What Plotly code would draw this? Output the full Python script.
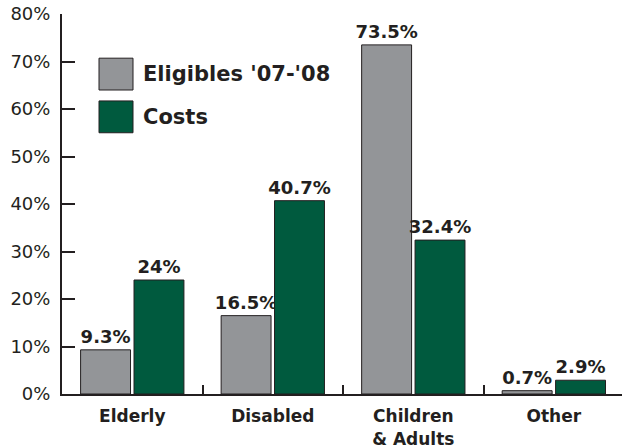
import plotly.graph_objects as go

categories = ["Elderly", "Disabled", "Children<br>& Adults", "Other"]
series_names = ["Eligibles '07-'08", "Costs"]
eligibles = [9.3, 16.5, 73.5, 0.7]
costs = [24, 40.7, 32.4, 2.9]
y_ticks = [0, 10, 20, 30, 40, 50, 60, 70, 80]
y_tick_text = [f"{v}%" for v in y_ticks]

GRAY = "#939598"
GREEN = "#005a3e"
INK = "#231f20"
FONT = "DejaVu Sans, Arial, sans-serif"

fig = go.Figure()
for name, vals, col in [(series_names[0], eligibles, GRAY), (series_names[1], costs, GREEN)]:
    fig.add_trace(go.Bar(
        x=categories, y=vals, name=name,
        marker=dict(color=col, line=dict(color=INK, width=1)),
        text=[f"{v:g}%" for v in vals], textposition="outside",
        textfont=dict(family=FONT, size=18, color=INK, weight="bold"),
        constraintext="none",
        cliponaxis=False, showlegend=False,
    ))

# manual legend with large swatches
leg = [(series_names[0], GRAY, 70.7, 64.0), (series_names[1], GREEN, 61.7, 55.0)]
for name, col, ytop, ybot in leg:
    fig.add_shape(type="rect", xref="paper", yref="y",
                  x0=(99 - 62) / 560, x1=(133 - 62) / 560, y0=ybot, y1=ytop,
                  fillcolor=col, line=dict(color=INK, width=1))
    fig.add_annotation(xref="paper", yref="y", x=(141 - 62) / 560, y=(ytop + ybot) / 2,
                       text=f"<b>{name}</b>", showarrow=False, xanchor="left", yanchor="middle",
                       font=dict(family=FONT, size=21, color=INK))

fig.update_layout(
    width=622, height=448,
    margin=dict(l=62, r=0, t=14, b=54),
    paper_bgcolor="white", plot_bgcolor="white",
    barmode="group", bargap=0.24, bargroupgap=0.065,
    font=dict(family=FONT, color=INK),
    xaxis=dict(
        range=[-0.5, 3.485], showline=True, linecolor=INK, linewidth=2,
        ticks="inside", tickson="boundaries", ticklen=9, tickwidth=2, tickcolor=INK,
        tickfont=dict(family=FONT, size=17, color=INK, weight="bold"),
        ticklabelstandoff=6,
        showgrid=False, zeroline=False, automargin=False,
    ),
    yaxis=dict(
        range=[0, 80], tickvals=y_ticks, ticktext=y_tick_text,
        showline=True, linecolor=INK, linewidth=2,
        ticks="inside", ticklen=13, tickwidth=2, tickcolor=INK,
        tickfont=dict(family=FONT, size=18, color=INK),
        ticklabelstandoff=6,
        showgrid=False, zeroline=False, automargin=False,
    ),
)

fig.write_html("out.html", config={"displayModeBar": False},
               post_script="document.body.style.margin='0';")
